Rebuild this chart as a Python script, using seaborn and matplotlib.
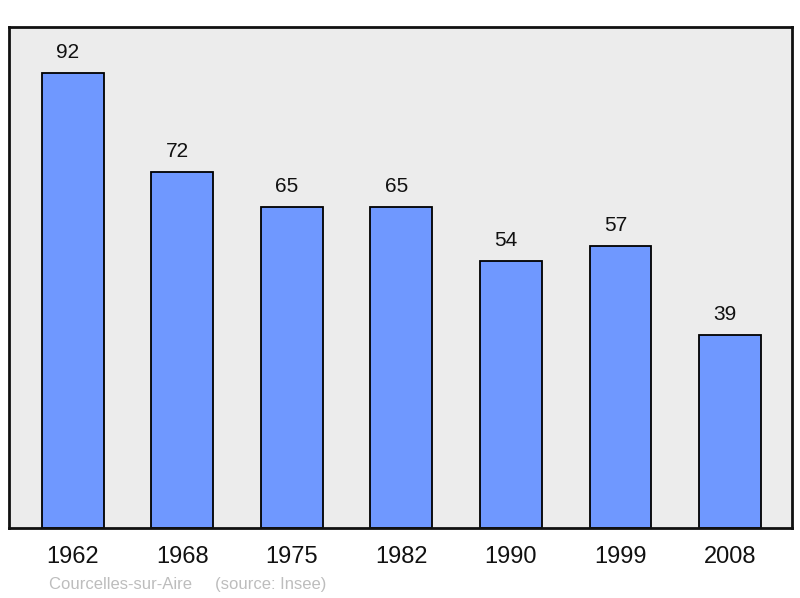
import matplotlib
matplotlib.use("Agg")
import matplotlib.pyplot as plt
import seaborn as sns
import pandas as pd

years = ["1962", "1968", "1975", "1982", "1990", "1999", "2008"]
population = [92, 72, 65, 65, 54, 57, 39]
footer = "Courcelles-sur-Aire     (source: Insee)"

sns.set_style("white")
plt.rcParams["font.family"] = ["Liberation Sans", "DejaVu Sans"]

df = pd.DataFrame({"year": years, "pop": population})

fig = plt.figure(figsize=(8.0, 5.98), dpi=100)
ax = fig.add_axes([9 / 800, 70 / 598, 783 / 800, 501 / 598])
ax.set_facecolor("#ececec")

sns.barplot(data=df, x="year", y="pop", color="#6f98ff", saturation=1,
            width=0.566, edgecolor="black", linewidth=1.3, ax=ax)

for i, v in enumerate(population):
    ax.text(i - 0.045, v + 4.1, str(v), ha="center", va="center", fontsize=15, color="#111111")

ax.set_xlim(-0.584, 6.566)
ax.set_ylim(0, 101.3)
ax.set_xlabel("")
ax.set_ylabel("")
ax.set_yticks([])
ax.tick_params(axis="x", length=0, pad=13, labelsize=17, labelcolor="#111111")
for s in ax.spines.values():
    s.set_visible(True)
    s.set_color("#111111")
    s.set_linewidth(2)

fig.text(49 / 800, 1 - 584 / 598, footer, fontsize=12, color="#bdbdbd", ha="left", va="center")

fig.savefig("out.png", dpi=100)
